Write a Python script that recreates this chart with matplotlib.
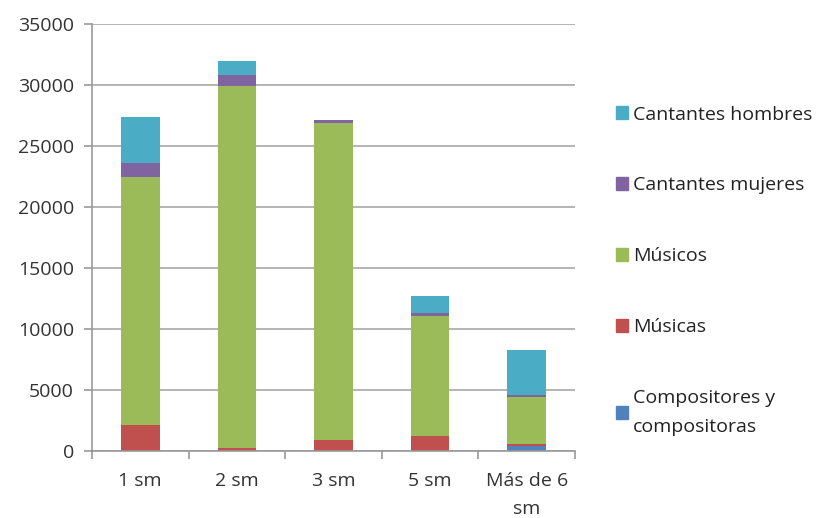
import numpy as np
from matplotlib import pyplot as plt
from matplotlib.patches import Patch

categories = ['1 sm', '2 sm', '3 sm', '5 sm', 'Más de 6\nsm']
compositores = [0, 0, 0, 0, 400]
musicas = [2100, 250, 900, 1200, 200]
musicos = [20400, 29650, 26000, 9900, 3800]
cantantes_mujeres = [1100, 900, 200, 200, 150]
cantantes_hombres = [3800, 1200, 0, 1400, 3700]

series = [
	('Compositores y\ncompositoras', compositores, '#4F81BD'),
	('Músicas', musicas, '#C0504D'),
	('Músicos', musicos, '#9BBB59'),
	('Cantantes mujeres', cantantes_mujeres, '#8064A2'),
	('Cantantes hombres', cantantes_hombres, '#4BACC6'),
]

plt.rcParams['font.family'] = ['Open Sans', 'DejaVu Sans']
FS = 14

fig = plt.figure(figsize=(8.19, 5.18), dpi=100)
ax = fig.add_axes([92/819, 67/518, 483/819, 427/518])

x = np.arange(len(categories))
bottom = np.zeros(len(categories))
for name, vals, col in series:
	ax.bar(x, vals, width=0.4, bottom=bottom, color=col, zorder=2)
	bottom += np.array(vals)

ax.set_xlim(-0.5, len(categories) - 0.5)
ax.set_ylim(0, 35000)
ax.set_yticks(np.arange(0, 35001, 5000))
ax.tick_params(axis='y', labelsize=FS, colors='#333333', length=6, color='#999999', width=1.2, pad=7)
ax.yaxis.grid(True, color='#a8a8a8', linewidth=1.2, zorder=0)
ax.set_xticks(x)
ax.set_xticklabels(categories, fontsize=FS, color='#333333', linespacing=1.7)
ax.tick_params(axis='x', length=0, pad=15)
ax.set_xticks(np.arange(-0.5, len(categories), 1), minor=True)
ax.tick_params(axis='x', which='minor', length=6, color='#999999', width=1.2)
for s in ['top', 'right']:
	ax.spines[s].set_visible(False)
for s in ['left', 'bottom']:
	ax.spines[s].set_color('#999999')
	ax.spines[s].set_linewidth(1.2)

handles = [Patch(color=col, label=name) for name, vals, col in series][::-1]
leg = fig.legend(handles=handles, loc='upper left', bbox_to_anchor=(598/819, 1 - 88/518), frameon=False,
	fontsize=FS, labelspacing=2.72, handlelength=0.65, handleheight=0.65, handletextpad=0.25,
	labelcolor='#222222')
for t in leg.get_texts():
	t.set_linespacing(1.8)

fig.savefig('out.png', dpi=100)
